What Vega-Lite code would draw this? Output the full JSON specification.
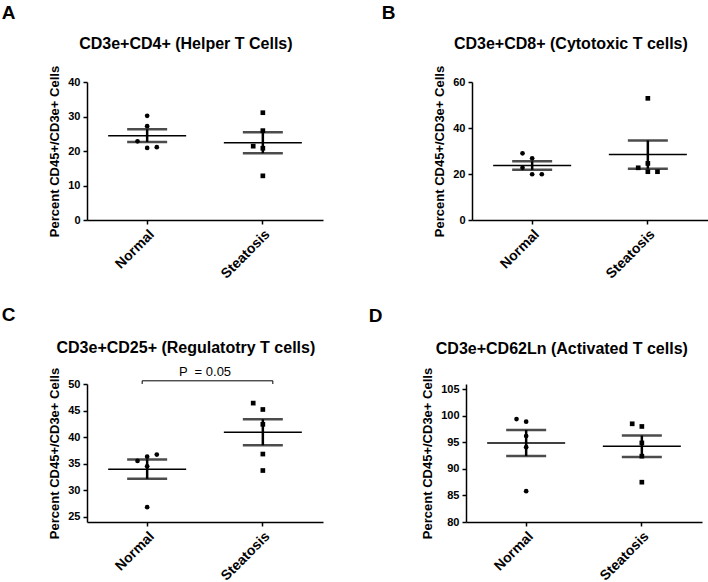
{
  "$schema": "https://vega.github.io/schema/vega-lite/v6.json",
  "background": "white",
  "padding": {"left": 1, "top": 4, "right": 0, "bottom": 0},
  "config": {
    "font": "Liberation Sans",
    "view": {"stroke": null},
    "axis": {"domainColor": "black", "domainWidth": 1.5, "tickColor": "black", "tickWidth": 1.5, "tickSize": 4, "labelColor": "black", "labelFont": "Liberation Sans", "labelFontWeight": "bold", "titleColor": "black", "titleFont": "Liberation Sans", "titleFontWeight": "bold", "grid": false, "labelOverlap": false},
    "axisX": {"labelAngle": -45, "labelAlign": "right", "labelBaseline": "top", "labelFontSize": 14, "labelPadding": 3, "bandPosition": 0.5},
    "axisY": {"labelFontSize": 11, "titleFontSize": 13, "titlePadding": 6, "labelPadding": 3},
    "title": {"color": "black", "fontWeight": "bold", "font": "Liberation Sans"}
  },
  "datasets": {
    "A": [
      {"group": "Normal", "value": 30.2, "jit": 0},
      {"group": "Normal", "value": 27.2, "jit": 0},
      {"group": "Normal", "value": 22.8, "jit": -1},
      {"group": "Normal", "value": 20.9, "jit": 0},
      {"group": "Normal", "value": 21.1, "jit": 1},
      {"group": "Steatosis", "value": 31.1, "jit": 0},
      {"group": "Steatosis", "value": 25.9, "jit": 0},
      {"group": "Steatosis", "value": 21.4, "jit": -1},
      {"group": "Steatosis", "value": 20.8, "jit": 0},
      {"group": "Steatosis", "value": 12.8, "jit": 0}
    ],
    "B": [
      {"group": "Normal", "value": 29.0, "jit": -1},
      {"group": "Normal", "value": 26.8, "jit": 0},
      {"group": "Normal", "value": 22.7, "jit": -1},
      {"group": "Normal", "value": 19.9, "jit": 0},
      {"group": "Normal", "value": 19.9, "jit": 1},
      {"group": "Steatosis", "value": 52.9, "jit": 0},
      {"group": "Steatosis", "value": 24.6, "jit": 0},
      {"group": "Steatosis", "value": 22.7, "jit": -1},
      {"group": "Steatosis", "value": 21.0, "jit": 0},
      {"group": "Steatosis", "value": 21.0, "jit": 1}
    ],
    "C": [
      {"group": "Normal", "value": 36.7, "jit": 1},
      {"group": "Normal", "value": 36.3, "jit": 0},
      {"group": "Normal", "value": 35.5, "jit": -1},
      {"group": "Normal", "value": 34.5, "jit": 0},
      {"group": "Normal", "value": 26.8, "jit": 0},
      {"group": "Steatosis", "value": 46.4, "jit": -1},
      {"group": "Steatosis", "value": 45.2, "jit": 0},
      {"group": "Steatosis", "value": 42.4, "jit": 0},
      {"group": "Steatosis", "value": 36.8, "jit": 0},
      {"group": "Steatosis", "value": 33.7, "jit": 0}
    ],
    "D": [
      {"group": "Normal", "value": 99.4, "jit": -1},
      {"group": "Normal", "value": 98.9, "jit": 0},
      {"group": "Normal", "value": 96.2, "jit": 0},
      {"group": "Normal", "value": 94.1, "jit": 0},
      {"group": "Normal", "value": 85.8, "jit": 0},
      {"group": "Steatosis", "value": 98.5, "jit": -1},
      {"group": "Steatosis", "value": 98.0, "jit": 0},
      {"group": "Steatosis", "value": 94.9, "jit": 0},
      {"group": "Steatosis", "value": 92.4, "jit": 0},
      {"group": "Steatosis", "value": 87.5, "jit": 0}
    ]
  },
  "spacing": 25,
  "vconcat": [
    {
      "spacing": 58,
      "hconcat": [
        {
          "title": {"text": "A", "anchor": "start", "fontSize": 19, "dx": -47, "offset": 13},
          "vconcat": [
            {
              "width": 236, "height": 138,
              "title": {"text": "CD3e+CD4+ (Helper T Cells)", "fontSize": 16, "offset": 13, "frame": "bounds"},
              "layer": [
                {
                  "data": {"name": "A"},
                  "mark": {"type": "point", "filled": true, "size": 22, "opacity": 1, "color": "black"},
                  "encoding": {
                    "x": {"field": "group", "type": "nominal", "sort": ["Normal", "Steatosis"], "scale": {"paddingInner": 0.5, "paddingOuter": 0.27}, "title": null},
                    "y": {"field": "value", "type": "quantitative", "scale": {"domain": [0, 40]}, "axis": {"values": [0, 10, 20, 30, 40]}, "title": "Percent CD45+/CD3e+ Cells"},
                    "xOffset": {"field": "jit", "type": "quantitative", "scale": {"domain": [-3, 3]}},
                    "shape": {"field": "group", "type": "nominal", "scale": {"domain": ["Normal", "Steatosis"], "range": ["circle", "square"]}, "legend": null}
                  }
                },
                {
                  "data": {"name": "A"},
                  "mark": {"type": "errorbar", "extent": "stderr", "color": "black", "thickness": 2.5, "ticks": {"size": 40, "thickness": 2.5, "color": "black"}},
                  "encoding": {
                    "x": {"field": "group", "type": "nominal", "sort": ["Normal", "Steatosis"], "title": null},
                    "y": {"field": "value", "type": "quantitative", "axis": {"values": [0, 10, 20, 30, 40]}, "title": "Percent CD45+/CD3e+ Cells"}
                  }
                },
                {
                  "data": {"name": "A"},
                  "mark": {"type": "tick", "size": 78, "thickness": 1.5, "color": "black", "opacity": 1},
                  "encoding": {
                    "x": {"field": "group", "type": "nominal", "sort": ["Normal", "Steatosis"], "title": null},
                    "y": {"aggregate": "mean", "field": "value", "type": "quantitative", "axis": {"values": [0, 10, 20, 30, 40]}, "title": "Percent CD45+/CD3e+ Cells"}
                  }
                }
              ]
            }
          ]
        },
        {
          "title": {"text": "B", "anchor": "start", "fontSize": 19, "dx": -52, "offset": 13},
          "vconcat": [
            {
              "width": 236, "height": 138,
              "title": {"text": "CD3e+CD8+ (Cytotoxic T cells)", "fontSize": 16, "offset": 13, "frame": "bounds"},
              "layer": [
                {
                  "data": {"name": "B"},
                  "mark": {"type": "point", "filled": true, "size": 22, "opacity": 1, "color": "black"},
                  "encoding": {
                    "x": {"field": "group", "type": "nominal", "sort": ["Normal", "Steatosis"], "scale": {"paddingInner": 0.5, "paddingOuter": 0.27}, "title": null},
                    "y": {"field": "value", "type": "quantitative", "scale": {"domain": [0, 60]}, "axis": {"values": [0, 20, 40, 60]}, "title": "Percent CD45+/CD3e+ Cells"},
                    "xOffset": {"field": "jit", "type": "quantitative", "scale": {"domain": [-3, 3]}},
                    "shape": {"field": "group", "type": "nominal", "scale": {"domain": ["Normal", "Steatosis"], "range": ["circle", "square"]}, "legend": null}
                  }
                },
                {
                  "data": {"name": "B"},
                  "mark": {"type": "errorbar", "extent": "stderr", "color": "black", "thickness": 2.5, "ticks": {"size": 40, "thickness": 2.5, "color": "black"}},
                  "encoding": {
                    "x": {"field": "group", "type": "nominal", "sort": ["Normal", "Steatosis"], "title": null},
                    "y": {"field": "value", "type": "quantitative", "axis": {"values": [0, 20, 40, 60]}, "title": "Percent CD45+/CD3e+ Cells"}
                  }
                },
                {
                  "data": {"name": "B"},
                  "mark": {"type": "tick", "size": 78, "thickness": 1.5, "color": "black", "opacity": 1},
                  "encoding": {
                    "x": {"field": "group", "type": "nominal", "sort": ["Normal", "Steatosis"], "title": null},
                    "y": {"aggregate": "mean", "field": "value", "type": "quantitative", "axis": {"values": [0, 20, 40, 60]}, "title": "Percent CD45+/CD3e+ Cells"}
                  }
                }
              ]
            }
          ]
        }
      ]
    },
    {
      "spacing": 45,
      "hconcat": [
        {
          "title": {"text": "C", "anchor": "start", "fontSize": 19, "dx": -47, "offset": 15},
          "vconcat": [
            {
              "width": 236, "height": 138,
              "title": {"text": "CD3e+CD25+ (Regulatotry T cells)", "fontSize": 16, "offset": 10, "frame": "bounds"},
              "layer": [
                {
                  "data": {"name": "C"},
                  "mark": {"type": "point", "filled": true, "size": 22, "opacity": 1, "color": "black"},
                  "encoding": {
                    "x": {"field": "group", "type": "nominal", "sort": ["Normal", "Steatosis"], "scale": {"paddingInner": 0.5, "paddingOuter": 0.27}, "title": null},
                    "y": {"field": "value", "type": "quantitative", "scale": {"domain": [25, 50], "zero": false}, "axis": {"values": [25, 30, 35, 40, 45, 50]}, "title": "Percent CD45+/CD3e+ Cells"},
                    "xOffset": {"field": "jit", "type": "quantitative", "scale": {"domain": [-3, 3]}},
                    "shape": {"field": "group", "type": "nominal", "scale": {"domain": ["Normal", "Steatosis"], "range": ["circle", "square"]}, "legend": null}
                  }
                },
                {
                  "data": {"name": "C"},
                  "mark": {"type": "errorbar", "extent": "stderr", "color": "black", "thickness": 2.5, "ticks": {"size": 40, "thickness": 2.5, "color": "black"}},
                  "encoding": {
                    "x": {"field": "group", "type": "nominal", "sort": ["Normal", "Steatosis"], "title": null},
                    "y": {"field": "value", "type": "quantitative", "axis": {"values": [25, 30, 35, 40, 45, 50]}, "title": "Percent CD45+/CD3e+ Cells"}
                  }
                },
                {
                  "data": {"name": "C"},
                  "mark": {"type": "tick", "size": 78, "thickness": 1.5, "color": "black", "opacity": 1},
                  "encoding": {
                    "x": {"field": "group", "type": "nominal", "sort": ["Normal", "Steatosis"], "title": null},
                    "y": {"aggregate": "mean", "field": "value", "type": "quantitative", "axis": {"values": [25, 30, 35, 40, 45, 50]}, "title": "Percent CD45+/CD3e+ Cells"}
                  }
                },
                {
                  "data": {"values": [{}]},
                  "mark": {"type": "rule", "color": "black", "strokeWidth": 1, "xOffset": -5, "x2Offset": 10},
                  "encoding": {
                    "x": {"datum": "Normal", "type": "nominal", "title": null},
                    "x2": {"datum": "Steatosis"},
                    "y": {"datum": 50.6, "type": "quantitative", "axis": {"values": [25, 30, 35, 40, 45, 50]}, "title": "Percent CD45+/CD3e+ Cells"}
                  }
                },
                {
                  "data": {"values": [{}]},
                  "mark": {"type": "rule", "color": "black", "strokeWidth": 1, "xOffset": -5},
                  "encoding": {
                    "x": {"datum": "Normal", "type": "nominal", "title": null},
                    "y": {"datum": 50.0, "type": "quantitative", "axis": {"values": [25, 30, 35, 40, 45, 50]}, "title": "Percent CD45+/CD3e+ Cells"},
                    "y2": {"datum": 50.6}
                  }
                },
                {
                  "data": {"values": [{}]},
                  "mark": {"type": "rule", "color": "black", "strokeWidth": 1, "xOffset": 10},
                  "encoding": {
                    "x": {"datum": "Steatosis", "type": "nominal", "title": null},
                    "y": {"datum": 50.0, "type": "quantitative", "axis": {"values": [25, 30, 35, 40, 45, 50]}, "title": "Percent CD45+/CD3e+ Cells"},
                    "y2": {"datum": 50.6}
                  }
                },
                {
                  "data": {"values": [{}]},
                  "mark": {"type": "text", "fontSize": 13, "color": "black", "baseline": "alphabetic", "font": "Liberation Sans"},
                  "encoding": {
                    "y": {"datum": 51.5, "type": "quantitative", "axis": {"values": [25, 30, 35, 40, 45, 50]}, "title": "Percent CD45+/CD3e+ Cells"},
                    "text": {"value": "P \u00a0= 0.05"}
                  }
                }
              ]
            }
          ]
        },
        {
          "title": {"text": "D", "anchor": "start", "fontSize": 19, "dx": -53, "offset": 15},
          "vconcat": [
            {
              "width": 236, "height": 138,
              "title": {"text": "CD3e+CD62Ln (Activated T cells)", "fontSize": 16, "offset": 10, "frame": "bounds"},
              "layer": [
                {
                  "data": {"name": "D"},
                  "mark": {"type": "point", "filled": true, "size": 22, "opacity": 1, "color": "black"},
                  "encoding": {
                    "x": {"field": "group", "type": "nominal", "sort": ["Normal", "Steatosis"], "scale": {"paddingInner": 0.5, "paddingOuter": 0.27}, "title": null},
                    "y": {"field": "value", "type": "quantitative", "scale": {"domain": [80, 105], "zero": false}, "axis": {"values": [80, 85, 90, 95, 100, 105]}, "title": "Percent CD45+/CD3e+ Cells"},
                    "xOffset": {"field": "jit", "type": "quantitative", "scale": {"domain": [-3, 3]}},
                    "shape": {"field": "group", "type": "nominal", "scale": {"domain": ["Normal", "Steatosis"], "range": ["circle", "square"]}, "legend": null}
                  }
                },
                {
                  "data": {"name": "D"},
                  "mark": {"type": "errorbar", "extent": "stderr", "color": "black", "thickness": 2.5, "ticks": {"size": 40, "thickness": 2.5, "color": "black"}},
                  "encoding": {
                    "x": {"field": "group", "type": "nominal", "sort": ["Normal", "Steatosis"], "title": null},
                    "y": {"field": "value", "type": "quantitative", "axis": {"values": [80, 85, 90, 95, 100, 105]}, "title": "Percent CD45+/CD3e+ Cells"}
                  }
                },
                {
                  "data": {"name": "D"},
                  "mark": {"type": "tick", "size": 78, "thickness": 1.5, "color": "black", "opacity": 1},
                  "encoding": {
                    "x": {"field": "group", "type": "nominal", "sort": ["Normal", "Steatosis"], "title": null},
                    "y": {"aggregate": "mean", "field": "value", "type": "quantitative", "axis": {"values": [80, 85, 90, 95, 100, 105]}, "title": "Percent CD45+/CD3e+ Cells"}
                  }
                }
              ]
            }
          ]
        }
      ]
    }
  ]
}
